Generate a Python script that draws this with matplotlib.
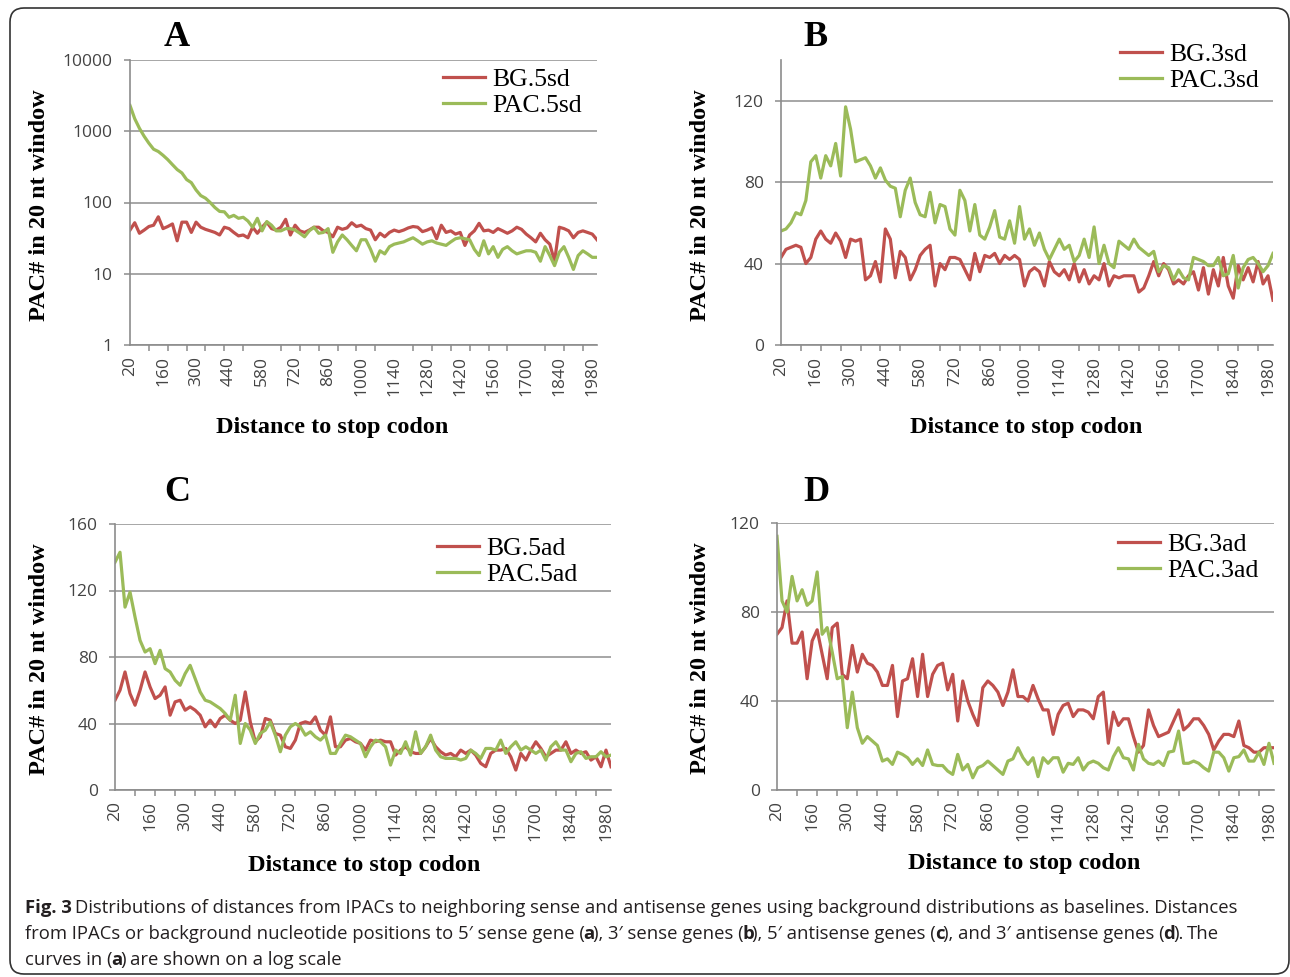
import numpy as np
import matplotlib
matplotlib.use("Agg")
import matplotlib.pyplot as plt
from matplotlib.patches import FancyBboxPatch
from matplotlib.ticker import NullLocator

W, H = 1290, 977

# categories: distance to stop codon (nt), 20 nt windows
distance = np.arange(20, 2001, 20)

# panel A (log scale)
bg_5sd = [41, 52, 37, 41, 46, 48, 63, 43, 46, 50,
          29, 53, 53, 38, 53, 45, 42, 40, 38, 35,
          45, 43, 38, 34, 35, 32, 45, 37, 45, 53,
          43, 41, 45, 58, 35, 48, 40, 38, 41, 45,
          45, 40, 38, 33, 45, 42, 44, 52, 46, 48,
          43, 41, 30, 37, 33, 38, 41, 39, 41, 44,
          46, 45, 39, 41, 44, 31, 48, 38, 40, 36,
          38, 25, 35, 40, 51, 40, 41, 38, 43, 40,
          37, 40, 45, 42, 36, 32, 28, 37, 30, 26,
          15, 45, 43, 40, 32, 38, 40, 38, 36, 30]
pac_5sd = [2300, 1500, 1100, 850, 680, 560, 520, 460, 400, 340,
           290, 260, 210, 190, 150, 125, 115, 100, 85, 75,
           74, 62, 66, 60, 62, 55, 45, 60, 40, 54,
           48, 40, 40, 43, 43, 41, 37, 33, 40, 45,
           37, 38, 43, 20, 28, 35, 30, 25, 21, 30,
           30, 22, 15, 21, 19, 24, 26, 27, 28, 30,
           32, 29, 26, 28, 29, 27, 26, 25, 28, 31,
           32, 31, 30, 22, 18, 29, 19, 24, 17, 22,
           24, 21, 19, 20, 21, 21, 20, 15, 24, 18,
           13, 20, 24, 17, 11.5, 18, 21, 19, 17, 17]

# panel B
bg_3sd = [43, 47, 48, 49, 48, 40, 43, 52, 56, 52,
          50, 55, 51, 43, 52, 51, 52, 32, 34, 41,
          31, 57, 52, 33, 46, 43, 32, 37, 44, 47,
          49, 29, 40, 37, 43, 43, 42, 37, 32, 45,
          36, 44, 43, 45, 40, 44, 42, 44, 42, 29,
          36, 38, 36, 29, 41, 36, 34, 37, 32, 40,
          31, 37, 30, 34, 32, 40, 29, 34, 33, 34,
          34, 34, 26, 28, 34, 41, 34, 40, 37, 30,
          32, 30, 34, 36, 27, 38, 25, 37, 29, 43,
          29, 23, 39, 32, 38, 31, 41, 30, 34, 22]
pac_3sd = [56, 57, 60, 65, 64, 71, 90, 93, 82, 93,
           88, 99, 83, 117, 106, 90, 91, 92, 88, 82,
           87, 81, 78, 77, 63, 76, 82, 70, 64, 63,
           75, 60, 69, 68, 57, 54, 76, 71, 56, 69,
           54, 52, 58, 66, 53, 52, 61, 50, 68, 52,
           57, 49, 55, 47, 42, 47, 52, 47, 49, 41,
           44, 52, 43, 58, 40, 49, 40, 38, 51, 49,
           47, 52, 48, 46, 44, 46, 36, 39, 38, 32,
           37, 33, 32, 43, 42, 41, 39, 39, 43, 34,
           35, 44, 28, 38, 42, 43, 40, 36, 39, 45]

# panel C
bg_5ad = [54, 60, 71, 58, 51, 60, 71, 62, 55, 57,
          62, 45, 53, 54, 48, 50, 48, 45, 38, 42,
          38, 43, 45, 42, 40, 42, 59, 41, 29, 32,
          43, 42, 34, 33, 26, 25, 30, 40, 41, 40,
          44, 36, 33, 44, 26, 26, 30, 31, 29, 28,
          24, 30, 29, 30, 29, 29, 21, 24, 26, 23,
          22, 22, 26, 31, 26, 23, 21, 22, 20, 24,
          22, 24, 21, 16, 14, 22, 24, 24, 25, 20,
          12, 22, 18, 24, 29, 25, 20, 22, 24, 24,
          29, 22, 24, 22, 23, 18, 20, 14, 24, 14]
pac_5ad = [137, 143, 110, 119, 104, 90, 83, 85, 76, 84,
           73, 71, 66, 63, 70, 75, 67, 59, 54, 53,
           51, 49, 46, 42, 57, 28, 40, 36, 28, 34,
           36, 41, 33, 23, 33, 38, 40, 38, 33, 35,
           32, 30, 33, 22, 22, 28, 33, 32, 30, 28,
           20, 26, 30, 29, 26, 15, 24, 22, 29, 21,
           35, 22, 26, 33, 24, 20, 19, 19, 19, 18,
           19, 24, 22, 19, 25, 25, 24, 30, 22, 26,
           29, 24, 26, 24, 22, 24, 18, 26, 29, 24,
           24, 17, 22, 23, 19, 20, 20, 23, 20, 21]

# panel D
bg_3ad = [70, 73, 85, 66, 66, 71, 50, 67, 72, 61,
          50, 73, 75, 52, 50, 65, 53, 61, 57, 56,
          53, 47, 47, 56, 33, 49, 50, 59, 42, 61,
          42, 52, 56, 57, 45, 52, 31, 49, 40, 34,
          29, 46, 49, 47, 44, 38, 44, 54, 42, 42,
          40, 47, 41, 36, 36, 25, 34, 38, 39, 33,
          36, 36, 35, 32, 42, 44, 21, 35, 29, 32,
          32, 24, 17, 20, 36, 29, 24, 25, 26, 31,
          36, 27, 29, 32, 32, 29, 25, 18, 22, 25,
          25, 24, 31, 20, 19, 17, 17, 19, 19, 19]
pac_3ad = [114, 85, 80, 96, 85, 90, 83, 85, 98, 70,
           73, 62, 50, 51, 28, 44, 28, 21, 24, 22,
           20, 13, 14, 11.5, 17, 16, 14.5, 11.5, 14, 11,
           18, 11.5, 11, 11, 8.5, 7, 16, 9, 11.5, 5.5,
           10, 11, 13, 11, 9, 7, 13, 14, 19, 14.5,
           11.5, 14.5, 6, 14.5, 12, 14.5, 14.5, 8, 12, 11.5,
           14.5, 9, 12, 13, 12, 10, 9, 15, 19, 14.5,
           14, 9, 20.5, 14, 12, 11.5, 13, 11, 17, 17.5,
           26.5, 12, 12, 13, 12, 10, 8.5, 17, 17, 14.5,
           8.5, 14.5, 15, 18, 13, 13, 17, 11.5, 21, 12]

RED = '#c0504d'
GREEN = '#9bbb59'
GRID = '#a6a6a6'
AXIS = '#8c8c8c'
SERIF = 'Liberation Serif'
TICKF = ['Open Sans', 'DejaVu Sans']
CAPF = ['Open Sans', 'DejaVu Sans']

fig = plt.figure(figsize=(W / 100, H / 100), dpi=100)

# rounded frame around figure + caption
frame_ax = fig.add_axes([0, 0, 1, 1])
frame_ax.set_xlim(0, W)
frame_ax.set_ylim(H, 0)
frame_ax.axis('off')
frame_ax.add_patch(FancyBboxPatch((10, 8), 1279, 966,
                                  boxstyle='round,pad=0,rounding_size=14',
                                  fill=False, ec='#333333', lw=1.2))


def px(x, y):
    return x / W, 1 - y / H


panels = [
    dict(box=(130, 60, 597, 345), bg=bg_5sd, pac=pac_5sd, names=('BG.5sd', 'PAC.5sd'),
         log=True, ylim=(1, 10000), yticks=[1, 10, 100, 1000, 10000],
         letter='A', letter_xy=(177, 38), leg=(443, 92.5), ylab=(40, 205), xlab=(332, 427)),
    dict(box=(781, 60, 1273, 345), bg=bg_3sd, pac=pac_3sd, names=('BG.3sd', 'PAC.3sd'),
         log=False, ylim=(0, 140), yticks=[0, 40, 80, 120],
         letter='B', letter_xy=(815, 38), leg=(1120, 67.5), ylab=(700, 205), xlab=(1026, 427)),
    dict(box=(115, 524, 611, 790), bg=bg_5ad, pac=pac_5ad, names=('BG.5ad', 'PAC.5ad'),
         log=False, ylim=(0, 160), yticks=[0, 40, 80, 120, 160],
         letter='C', letter_xy=(177, 493), leg=(437, 561.5), ylab=(40, 659), xlab=(364, 866)),
    dict(box=(777, 523, 1274, 790), bg=bg_3ad, pac=pac_3ad, names=('BG.3ad', 'PAC.3ad'),
         log=False, ylim=(0, 120), yticks=[0, 40, 80, 120],
         letter='D', letter_xy=(816, 493), leg=(1118, 557.5), ylab=(700, 658), xlab=(1024, 864)),
]

x = np.arange(len(distance))

for p in panels:
    l, t, r, b = p['box']
    ax = fig.add_axes([l / W, 1 - b / H, (r - l) / W, (b - t) / H])
    ax.plot(x, p['bg'], color=RED, lw=2.3, label=p['names'][0], solid_joinstyle='round')
    ax.plot(x, p['pac'], color=GREEN, lw=2.3, label=p['names'][1], solid_joinstyle='round')
    if p['log']:
        ax.set_yscale('log')
    ax.set_ylim(*p['ylim'])
    ax.set_xlim(0, len(distance) - 1)
    ax.set_yticks(p['yticks'])
    ax.set_yticklabels([str(v) for v in p['yticks']])
    ax.yaxis.set_minor_locator(NullLocator())
    ax.grid(axis='y', color=GRID, lw=1.4)
    ax.set_axisbelow(True)

    ax.set_xticks(x[::7])
    ax.set_xticklabels([str(d) for d in distance[::7]], rotation=90)
    ax.set_xticks(x[::4], minor=True)
    ax.tick_params(axis='x', which='major', length=0, pad=8)
    ax.tick_params(axis='x', which='minor', length=4.5, width=1.1, color=AXIS)
    ax.tick_params(axis='y', which='major', length=4.5, width=1.1, color=AXIS, pad=8)
    for lab in ax.get_xticklabels() + ax.get_yticklabels():
        lab.set_family(TICKF)
        lab.set_fontsize(12.5)
        lab.set_color('#444444')

    for s in ('top', 'right'):
        ax.spines[s].set_visible(False)
    for s in ('left', 'bottom'):
        ax.spines[s].set_color(AXIS)
        ax.spines[s].set_linewidth(1.2)

    ax.legend(loc='center left', bbox_to_anchor=px(*p['leg']), bbox_transform=fig.transFigure,
              frameon=False, borderpad=0, borderaxespad=0, handlelength=1.65,
              handletextpad=0.25, labelspacing=0.12,
              prop={'family': SERIF, 'size': 18.5})

    fig.text(*px(*p['letter_xy']), p['letter'], family=SERIF, weight='bold', fontsize=26,
             ha='center', va='center')
    fig.text(*px(*p['ylab']), 'PAC# in 20 nt window', family=SERIF, weight='bold',
             fontsize=17.5, rotation=90, ha='center', va='center')
    fig.text(*px(*p['xlab']), 'Distance to stop codon', family=SERIF, weight='bold',
             fontsize=17.5, ha='center', va='center')

# caption, drawn piece by piece so the bold bits sit inline
caption = [
    [('Fig. 3', True), (' ', False),
     ('Distributions of distances from IPACs to neighboring sense and antisense genes using '
      'background distributions as baselines. Distances', False)],
    [('from IPACs or background nucleotide positions to 5\u2032 sense gene (', False), ('a', True),
     ('), 3\u2032 sense genes (', False), ('b', True), ('), 5\u2032 antisense genes (', False),
     ('c', True), ('), and 3\u2032 antisense genes (', False), ('d', True), (').', False),
     (' ', False), ('The', False)],
    [('curves in (', False), ('a', True), (')', False), (' ', False),
     ('are shown on a log scale', False)],
]
caption_y = [913, 939, 965]

renderer = fig.canvas.get_renderer()
probe = fig.text(0, 0, ''.join(s for s, _ in caption[0]), family=CAPF, fontsize=10)
cap_size = 10 * 1213 / probe.get_window_extent(renderer).width
probe.remove()
sp = fig.text(0, 0, 'a a', family=CAPF, fontsize=cap_size)
sp2 = fig.text(0, 0, 'aa', family=CAPF, fontsize=cap_size)
space_w = sp.get_window_extent(renderer).width - sp2.get_window_extent(renderer).width
sp.remove()
sp2.remove()

for parts, yy in zip(caption, caption_y):
    xx = 25
    for s, bold in parts:
        if s == ' ':
            xx += space_w
            continue
        tt = fig.text(*px(xx, yy), s, family=CAPF, fontsize=cap_size,
                      weight='bold' if bold else 'normal', color='#231f20',
                      ha='left', va='baseline')
        xx += tt.get_window_extent(renderer).width - 1.5

fig.savefig('out.png', dpi=100)
